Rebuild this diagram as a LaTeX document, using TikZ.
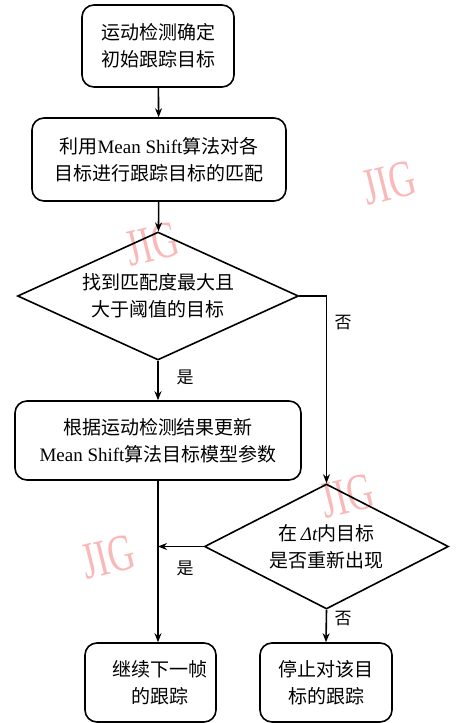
\documentclass[tikz,border=0pt]{standalone}
\usepackage{fontspec}
\setmainfont{Liberation Serif}
\newfontfamily\cjk{Noto Sans CJK SC}
\usetikzlibrary{shapes.geometric,arrows.meta}
\definecolor{wmpink}{RGB}{250,185,185}
\tikzset{
  box/.style={draw, line width=1.6pt, rounded corners=12pt, align=center, inner sep=0pt},
  dia/.style={draw, line width=1.6pt, shape=diamond, align=center, inner sep=0pt, aspect=2.2},
  conn/.style={line width=1.6pt, -{Stealth[length=9pt,width=7pt]}},
  lbl/.style={font=\cjk\fontsize{17}{20}\selectfont, inner sep=0pt},
  wm/.style={text=wmpink, font=\fontsize{52}{52}\selectfont, rotate=14, xscale=0.7, inner sep=0pt}
}
\begin{document}
\begin{tikzpicture}[x=1pt,y=-1pt, every node/.style={font=\cjk\fontsize{19}{27}\selectfont}]
\useasboundingbox[fill=white] (0,0) rectangle (456,723);
% watermarks
\node[wm] (w1) at (389,183) {JIG};
\node[wm] (w2) at (152,244) {JIG};
\node[wm] (w3) at (347,496) {JIG};
\node[wm] (w4) at (108,557) {JIG};
% boxes
\node[box, minimum width=152pt, minimum height=82pt] (b1) at (158,46) {运动检测确定\\初始跟踪目标};
\node[box, minimum width=254pt, minimum height=83pt] (b2) at (159,159.5) {利用{\rmfamily Mean Shift}算法对各\\目标进行跟踪目标的匹配};
\node[dia, minimum width=281pt, minimum height=128pt] (d1) at (158,296) {找到匹配度最大且\\大于阈值的目标};
\node[box, minimum width=286pt, minimum height=79pt] (b3) at (158,440.5) {根据运动检测结果更新\\{\rmfamily Mean Shift}算法目标模型参数};
\node[dia, minimum width=244pt, minimum height=125pt] (d2) at (326.5,546.5) {在\,{\rmfamily\itshape Δt}内目标\\是否重新出现};
\node[box, minimum width=131pt, minimum height=79pt] (b4) at (150.5,682.5) {};
\node (t4) at (160,682.5) [align=center, inner sep=0pt] {继续下一帧\\的跟踪};
\node[box, minimum width=132pt, minimum height=79pt] (b5) at (326,682.5) {停止对该目\\标的跟踪};
% connectors
\draw[conn] (b1) -- (b2);
\draw[conn] (b2) -- (d1);
\draw[conn] (d1.south) -- (b3.north);
\coordinate (c1) at (326.5,296);
\draw[conn] (d1.east) -- (c1) -- (d2.north);
\coordinate (c2) at (b3.south |- b4.north);
\draw[conn] (b3.south) -- (c2);
\coordinate (c3) at (b3.south |- d2.west);
\draw[conn] (d2.west) -- (c3);
\draw[conn] (d2.south) -- (b5.north);
% labels
\node[lbl] (l1) at (185,377) {是};
\node[lbl] (l2) at (343,323) {否};
\node[lbl] (l3) at (185,568) {是};
\node[lbl] (l4) at (343,619) {否};
\end{tikzpicture}
\end{document}
